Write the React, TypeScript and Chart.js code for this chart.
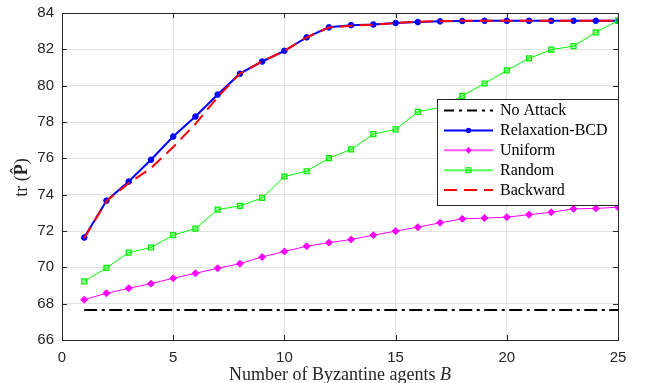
import React, { useEffect, useRef } from "react";
import Chart from "chart.js/auto";

const agents = [1, 2, 3, 4, 5, 6, 7, 8, 9, 10, 11, 12, 13, 14, 15, 16, 17, 18, 19, 20, 21, 22, 23, 24, 25];
const noAttack = [67.65, 67.65, 67.65, 67.65, 67.65, 67.65, 67.65, 67.65, 67.65, 67.65, 67.65, 67.65, 67.65, 67.65, 67.65, 67.65, 67.65, 67.65, 67.65, 67.65, 67.65, 67.65, 67.65, 67.65, 67.65];
const relaxationBCD = [71.64, 73.67, 74.72, 75.92, 77.2, 78.3, 79.51, 80.66, 81.33, 81.92, 82.66, 83.21, 83.33, 83.37, 83.45, 83.5, 83.54, 83.56, 83.57, 83.57, 83.57, 83.57, 83.57, 83.57, 83.57];
const uniform = [68.22, 68.57, 68.85, 69.1, 69.4, 69.67, 69.95, 70.2, 70.57, 70.87, 71.16, 71.36, 71.53, 71.77, 71.99, 72.21, 72.45, 72.67, 72.71, 72.76, 72.9, 73.03, 73.22, 73.24, 73.31];
const random = [69.23, 69.97, 70.81, 71.09, 71.77, 72.13, 73.18, 73.38, 73.82, 75.0, 75.29, 76.01, 76.49, 77.33, 77.59, 78.56, 78.8, 79.44, 80.12, 80.84, 81.5, 81.98, 82.18, 82.93, 83.58];
const backward = [71.6, 73.65, 74.63, 75.46, 76.62, 77.9, 79.37, 80.67, 81.33, 81.92, 82.66, 83.2, 83.3, 83.35, 83.45, 83.52, 83.55, 83.57, 83.57, 83.57, 83.57, 83.57, 83.57, 83.57, 83.57];
const xTicks = [0, 5, 10, 15, 20, 25];
const yTicks = [66, 68, 70, 72, 74, 76, 78, 80, 82, 84];

const legendNames = ["No Attack", "Relaxation-BCD", "Uniform", "Random", "Backward"];

const AXIS = "#262626";
const SERIF = "'Liberation Serif', 'Times New Roman', serif";
const DASHDOT = [13, 4.5, 3, 4.5];
const DASHED = [13, 7];

function pts(vals: number[]) {
  return agents.map((a, i) => ({ x: a, y: vals[i] }));
}

export default function App() {
  const ref = useRef<HTMLCanvasElement | null>(null);
  useEffect(() => {
    document.body.style.margin = "0";
    const canvas = ref.current!;
    const styles = [
      { color: "#000000", width: 2, dash: DASHDOT, point: false as any, radius: 0, bg: "#000" },
      { color: "#0000ff", width: 2, dash: [], point: "circle", radius: 2.8, bg: "#0000ff" },
      { color: "#ff00ff", width: 1, dash: [], point: "rectRot", radius: 3.5, bg: "#ff00ff" },
      { color: "#00ff00", width: 1, dash: [], point: "rect", radius: 3.5, bg: "rgba(0,255,0,0.35)" },
      { color: "#ff0000", width: 2, dash: DASHED, point: false as any, radius: 0, bg: "#ff0000" },
    ];
    const series = [noAttack, relaxationBCD, uniform, random, backward];
    const orders = [5, 4, 3, 2, 1];

    const deco = {
      id: "deco",
      beforeDraw(chart: any) {
        const c = chart.ctx;
        c.save();
        c.fillStyle = "#ffffff";
        c.fillRect(0, 0, chart.width, chart.height);
        c.restore();
      },
      afterDatasetsDraw(chart: any) {
        const c = chart.ctx;
        const a = chart.chartArea;
        const xs = chart.scales.x;
        const ys = chart.scales.y;
        c.save();
        // box
        c.strokeStyle = AXIS;
        c.lineWidth = 1;
        c.setLineDash([]);
        c.strokeRect(Math.round(a.left) + 0.5, Math.round(a.top) + 0.5, Math.round(a.right - a.left), Math.round(a.bottom - a.top));
        // inward ticks
        const tl = 5;
        c.beginPath();
        for (const t of xTicks) {
          const px = Math.round(xs.getPixelForValue(t)) + 0.5;
          c.moveTo(px, a.bottom);
          c.lineTo(px, a.bottom - tl);
          c.moveTo(px, a.top);
          c.lineTo(px, a.top + tl);
        }
        for (const t of yTicks) {
          const py = Math.round(ys.getPixelForValue(t)) + 0.5;
          c.moveTo(a.left, py);
          c.lineTo(a.left + tl, py);
          c.moveTo(a.right, py);
          c.lineTo(a.right - tl, py);
        }
        c.stroke();

        // legend
        const lx = xs.getPixelForValue(0) + 375;
        const lRight = a.right;
        const lTop = a.top + 86;
        const lBottom = a.top + 192;
        c.fillStyle = "#ffffff";
        c.fillRect(lx, lTop, lRight - lx, lBottom - lTop);
        c.strokeStyle = AXIS;
        c.lineWidth = 1;
        c.strokeRect(Math.round(lx) + 0.5, Math.round(lTop) + 0.5, Math.round(lRight - lx), Math.round(lBottom - lTop));
        const rowH = 19.9;
        const first = lTop + 11.5;
        legendNames.forEach((name, i) => {
          const s = styles[i];
          const y = first + i * rowH;
          const x0 = lx + 7;
          const x1 = lx + 56;
          c.beginPath();
          c.strokeStyle = s.color;
          c.globalAlpha = i === 2 || i === 3 ? 0.65 : 1;
          c.lineWidth = i === 2 || i === 3 ? 2 : s.width;
          c.setLineDash(i === 0 ? [10, 5, 3, 5] : i === 4 ? DASHED : []);
          c.moveTo(x0, y);
          c.lineTo(x1, y);
          c.stroke();
          c.globalAlpha = 1;
          c.setLineDash([]);
          const mx = (x0 + x1) / 2;
          if (i === 1) {
            c.fillStyle = s.color;
            c.beginPath();
            c.arc(mx, y, 2.6, 0, Math.PI * 2);
            c.fill();
          } else if (i === 2) {
            c.fillStyle = s.color;
            c.beginPath();
            c.moveTo(mx, y - 3.5);
            c.lineTo(mx + 3, y);
            c.lineTo(mx, y + 3.5);
            c.lineTo(mx - 3, y);
            c.closePath();
            c.fill();
          } else if (i === 3) {
            c.fillStyle = "rgba(0,255,0,0.35)";
            c.strokeStyle = "#00ee00";
            c.lineWidth = 1;
            c.fillRect(mx - 2.5, y - 2.5, 5, 5);
            c.strokeRect(mx - 2.5, y - 2.5, 5, 5);
          }
          c.fillStyle = "#000000";
          c.font = `16px ${SERIF}`;
          c.textAlign = "left";
          c.textBaseline = "middle";
          c.fillText(name, lx + 63, y + 0.5);
        });

        // x title
        const cx = (a.left + a.right) / 2;
        c.fillStyle = AXIS;
        c.textBaseline = "alphabetic";
        const f1 = `18px ${SERIF}`;
        const f2 = `italic 18px ${SERIF}`;
        const t1 = "Number of Byzantine agents ";
        const t2 = "B";
        c.font = f1;
        const w1 = c.measureText(t1).width;
        c.font = f2;
        const w2 = c.measureText(t2).width;
        let sx = cx - (w1 + w2) / 2;
        c.font = f1;
        c.textAlign = "left";
        c.fillText(t1, sx, 380);
        c.font = f2;
        c.fillText(t2, sx + w1, 380);

        // y title
        c.save();
        c.translate(27, (a.top + a.bottom) / 2 + 1);
        c.rotate(-Math.PI / 2);
        const p1 = "tr (";
        const p2 = "P";
        const p3 = ")";
        const fn = `18px ${SERIF}`;
        const fb = `bold 18px ${SERIF}`;
        c.font = fn;
        const q1 = c.measureText(p1).width;
        const q3 = c.measureText(p3).width;
        c.font = fb;
        const q2 = c.measureText(p2).width;
        let tx = -(q1 + q2 + q3) / 2;
        c.textAlign = "left";
        c.font = fn;
        c.fillText(p1, tx, 0);
        c.font = fb;
        c.fillText(p2, tx + q1, 0);
        c.font = `18px ${SERIF}`;
        c.textAlign = "center";
        c.fillText("\u02C6", tx + q1 + q2 / 2 - 1, -4);
        c.textAlign = "left";
        c.font = fn;
        c.fillText(p3, tx + q1 + q2, 0);
        c.restore();

        c.restore();
      },
    };

    const chart = new Chart(canvas, {
      type: "line",
      data: {
        datasets: series.map((vals, i) => ({
          label: legendNames[i],
          data: pts(vals),
          borderColor: styles[i].color,
          backgroundColor: styles[i].bg,
          borderWidth: styles[i].width,
          borderDash: styles[i].dash,
          pointStyle: styles[i].point,
          pointRadius: styles[i].radius,
          pointBorderColor: i === 3 ? "#00ee00" : styles[i].color,
          pointBorderWidth: i === 3 ? 1.2 : 1,
          pointBackgroundColor: styles[i].bg,
          fill: false,
          tension: 0,
          order: orders[i],
        })),
      },
      options: {
        responsive: false,
        animation: false,
        events: [],
        layout: { padding: { top: 13, right: 28, left: 0, bottom: 0 } },
        plugins: { legend: { display: false }, tooltip: { enabled: false } },
        scales: {
          x: {
            type: "linear",
            min: 0,
            max: 25,
            afterFit: (s: any) => {
              s.height = 43;
              s.paddingLeft = 0;
              s.paddingRight = 0;
            },
            afterBuildTicks: (s: any) => {
              s.ticks = xTicks.map((v) => ({ value: v }));
            },
            grid: { color: "#e3e3e3", drawTicks: false, lineWidth: 1 },
            border: { display: false },
            ticks: {
              color: AXIS,
              font: { family: "'Liberation Sans', Arial, sans-serif", size: 15 },
              padding: 9,
              maxRotation: 0,
            },
          },
          y: {
            type: "linear",
            min: 66,
            max: 84,
            afterFit: (s: any) => {
              s.width = 62;
              s.paddingTop = 0;
              s.paddingBottom = 0;
            },
            afterBuildTicks: (s: any) => {
              s.ticks = yTicks.map((v) => ({ value: v }));
            },
            grid: { color: "#e3e3e3", drawTicks: false, lineWidth: 1 },
            border: { display: false },
            ticks: {
              color: AXIS,
              font: { family: "'Liberation Sans', Arial, sans-serif", size: 15 },
              padding: 8,
            },
          },
        },
      },
      plugins: [deco],
    } as any);
    return () => chart.destroy();
  }, []);
  return (
    <div style={{ position: "absolute", left: 0, top: 0, width: 646, height: 383 }}>
      <canvas ref={ref} width={646} height={383} style={{ width: 646, height: 383 }} />
    </div>
  );
}
